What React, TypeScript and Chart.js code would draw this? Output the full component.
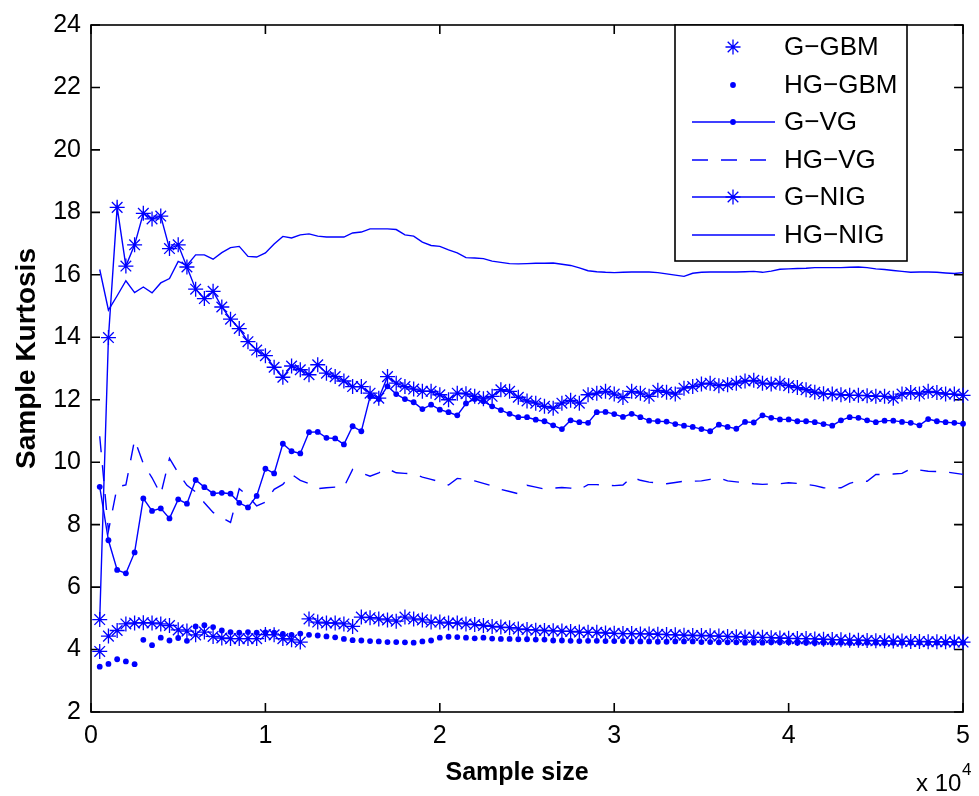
import React, { useEffect, useRef } from 'react';
import { Chart, registerables } from 'chart.js';

Chart.register(...registerables);

// ---------- data ----------
const sampleSizes = [
  500, 1000, 1500, 2000, 2500, 3000, 3500, 4000, 4500, 5000,
  5500, 6000, 6500, 7000, 7500, 8000, 8500, 9000, 9500, 10000,
  10500, 11000, 11500, 12000, 12500, 13000, 13500, 14000, 14500, 15000,
  15500, 16000, 16500, 17000, 17500, 18000, 18500, 19000, 19500, 20000,
  20500, 21000, 21500, 22000, 22500, 23000, 23500, 24000, 24500, 25000,
  25500, 26000, 26500, 27000, 27500, 28000, 28500, 29000, 29500, 30000,
  30500, 31000, 31500, 32000, 32500, 33000, 33500, 34000, 34500, 35000,
  35500, 36000, 36500, 37000, 37500, 38000, 38500, 39000, 39500, 40000,
  40500, 41000, 41500, 42000, 42500, 43000, 43500, 44000, 44500, 45000,
  45500, 46000, 46500, 47000, 47500, 48000, 48500, 49000, 49500, 50000,
];

const gGBM = [
  3.94, 4.43, 4.61, 4.82, 4.85, 4.86, 4.85, 4.82, 4.77, 4.63,
  4.59, 4.47, 4.56, 4.42, 4.37, 4.35, 4.35, 4.35, 4.35, 4.48,
  4.47, 4.35, 4.31, 4.24, 4.98, 4.88, 4.85, 4.85, 4.82, 4.74,
  5.04, 5.02, 4.98, 4.95, 4.91, 5.04, 4.98, 4.95, 4.88, 4.88,
  4.85, 4.85, 4.82, 4.80, 4.77, 4.74, 4.72, 4.70, 4.66, 4.64,
  4.62, 4.61, 4.60, 4.59, 4.58, 4.56, 4.55, 4.55, 4.53, 4.52,
  4.51, 4.51, 4.50, 4.50, 4.49, 4.48, 4.47, 4.46, 4.45, 4.45,
  4.44, 4.43, 4.42, 4.41, 4.40, 4.39, 4.39, 4.38, 4.37, 4.36,
  4.35, 4.35, 4.34, 4.33, 4.32, 4.31, 4.30, 4.30, 4.29, 4.28,
  4.28, 4.27, 4.27, 4.26, 4.26, 4.25, 4.25, 4.25, 4.24, 4.24,
];

const hgGBM = [
  3.45, 3.54, 3.69, 3.62, 3.53, 4.31, 4.14, 4.38, 4.29, 4.37,
  4.28, 4.74, 4.78, 4.72, 4.61, 4.56, 4.54, 4.56, 4.54, 4.55,
  4.54, 4.50, 4.47, 4.51, 4.47, 4.45, 4.42, 4.39, 4.34, 4.30,
  4.29, 4.27, 4.26, 4.24, 4.24, 4.23, 4.22, 4.26, 4.29, 4.38,
  4.41, 4.40, 4.38, 4.36, 4.38, 4.35, 4.34, 4.34, 4.33, 4.33,
  4.32, 4.32, 4.29, 4.29, 4.28, 4.27, 4.28, 4.28, 4.27, 4.27,
  4.27, 4.26, 4.26, 4.26, 4.25, 4.25, 4.26, 4.26, 4.26, 4.24,
  4.24, 4.23, 4.23, 4.23, 4.22, 4.22, 4.22, 4.23, 4.23, 4.23,
  4.22, 4.22, 4.21, 4.22, 4.22, 4.22, 4.21, 4.22, 4.22, 4.22,
  4.21, 4.22, 4.22, 4.22, 4.22, 4.21, 4.22, 4.22, 4.22, 4.22,
];

const gVG = [
  9.21, 7.50, 6.55, 6.44, 7.11, 8.84, 8.44, 8.52, 8.20, 8.81,
  8.67, 9.43, 9.20, 9.00, 9.02, 8.99, 8.70, 8.55, 8.92, 9.79,
  9.64, 10.59, 10.35, 10.28, 10.96, 10.97, 10.78, 10.76, 10.57, 11.15,
  10.99, 12.10, 12.02, 12.43, 12.18, 12.02, 11.92, 11.70, 11.84, 11.68,
  11.60, 11.50, 11.88, 12.02, 11.95, 11.79, 11.67, 11.55, 11.44, 11.44,
  11.36, 11.31, 11.18, 11.06, 11.34, 11.28, 11.26, 11.60, 11.61, 11.54,
  11.45, 11.55, 11.44, 11.33, 11.31, 11.30, 11.22, 11.17, 11.13, 11.06,
  10.99, 11.20, 11.13, 11.07, 11.29, 11.27, 11.50, 11.42, 11.37, 11.37,
  11.31, 11.31, 11.28, 11.22, 11.17, 11.34, 11.44, 11.42, 11.34, 11.28,
  11.33, 11.33, 11.29, 11.26, 11.18, 11.38, 11.31, 11.28, 11.26, 11.23,
];

const hgVG = [
  10.83, 7.80, 9.21, 9.27, 10.72, 9.95, 9.50, 8.97, 10.12, 9.66,
  9.26, 9.05, 8.70, 8.39, 8.22, 8.07, 9.15, 8.92, 8.60, 8.72,
  9.13, 9.29, 9.61, 9.42, 9.31, 9.15, 9.18, 9.20, 9.20, 9.77,
  9.66, 9.55, 9.66, 9.79, 9.66, 9.64, 9.63, 9.52, 9.45, 9.37,
  9.27, 9.48, 9.45, 9.40, 9.32, 9.24, 9.13, 9.06, 8.99, 9.26,
  9.20, 9.14, 9.17, 9.19, 9.17, 9.12, 9.28, 9.28, 9.26, 9.25,
  9.27, 9.52, 9.42, 9.36, 9.34, 9.31, 9.35, 9.39, 9.39, 9.40,
  9.45, 9.50, 9.40, 9.37, 9.34, 9.31, 9.29, 9.30, 9.31, 9.34,
  9.32, 9.29, 9.25, 9.18, 9.17, 9.18, 9.32, 9.40, 9.39, 9.61,
  9.60, 9.62, 9.64, 9.79, 9.75, 9.71, 9.70, 9.69, 9.65, 9.61,
];

const gNIG = [
  4.96, 13.99, 18.16, 16.28, 16.96, 17.97, 17.79, 17.88, 16.84, 16.96,
  16.25, 15.54, 15.24, 15.47, 14.97, 14.58, 14.28, 13.86, 13.59, 13.41,
  13.04, 12.72, 13.08, 12.96, 12.80, 13.12, 12.85, 12.74, 12.60, 12.42,
  12.42, 12.21, 12.05, 12.74, 12.53, 12.42, 12.34, 12.27, 12.27, 12.16,
  12.00, 12.21, 12.19, 12.11, 12.03, 12.11, 12.32, 12.27, 12.08, 11.96,
  11.89, 11.79, 11.73, 11.89, 11.98, 11.89, 12.16, 12.21, 12.27, 12.18,
  12.07, 12.27, 12.21, 12.11, 12.30, 12.24, 12.18, 12.37, 12.42, 12.50,
  12.53, 12.45, 12.48, 12.53, 12.60, 12.62, 12.53, 12.50, 12.53, 12.45,
  12.39, 12.32, 12.24, 12.19, 12.18, 12.16, 12.14, 12.14, 12.13, 12.11,
  12.11, 12.05, 12.18, 12.23, 12.18, 12.27, 12.23, 12.18, 12.18, 12.14,
];

const hgNIG = [
  16.17, 14.87, 15.33, 15.81, 15.43, 15.61, 15.42, 15.74, 15.88, 16.43,
  16.30, 16.64, 16.64, 16.50, 16.71, 16.87, 16.91, 16.59, 16.57, 16.70,
  16.99, 17.23, 17.18, 17.28, 17.31, 17.24, 17.21, 17.21, 17.21, 17.34,
  17.37, 17.47, 17.47, 17.47, 17.45, 17.28, 17.24, 17.05, 16.94, 16.91,
  16.80, 16.70, 16.55, 16.54, 16.52, 16.44, 16.40, 16.36, 16.35, 16.36,
  16.37, 16.37, 16.38, 16.34, 16.30, 16.22, 16.13, 16.10, 16.08, 16.07,
  16.08, 16.09, 16.09, 16.09, 16.07, 16.03, 15.99, 15.95, 16.05, 16.08,
  16.09, 16.09, 16.09, 16.09, 16.10, 16.11, 16.08, 16.12, 16.18, 16.19,
  16.20, 16.21, 16.23, 16.23, 16.23, 16.23, 16.24, 16.25, 16.23, 16.19,
  16.17, 16.14, 16.11, 16.08, 16.09, 16.09, 16.08, 16.06, 16.04, 16.07,
];

const seriesNames = ['G\u2212GBM', 'HG\u2212GBM', 'G\u2212VG', 'HG\u2212VG', 'G\u2212NIG', 'HG\u2212NIG'];
const xTickValues = [0, 1, 2, 3, 4, 5];
const yTickValues = [2, 4, 6, 8, 10, 12, 14, 16, 18, 20, 22, 24];
const xScaleFactor = 10000;
const xTitle = 'Sample size';
const yTitle = 'Sample Kurtosis';

// ---------- styling ----------
const BLUE = '#0000ff';
const FONT = "'Liberation Sans', Arial, Helvetica, sans-serif";
const W = 979;
const H = 796;
const PLOT = { left: 91, top: 22, right: 966, bottom: 712 };
const STAR_R = 7.5;
const STAR_W = 1.3;
const DOT_R = 2.9;
const LINE_W = 1.4;

const pts = (ys: number[]) => ys.map((y, i) => ({ x: sampleSizes[i], y }));

function drawStar(ctx: CanvasRenderingContext2D, x: number, y: number, r: number) {
  const d = r * Math.SQRT1_2;
  ctx.beginPath();
  ctx.moveTo(x - r, y); ctx.lineTo(x + r, y);
  ctx.moveTo(x, y - r); ctx.lineTo(x, y + r);
  ctx.moveTo(x - d, y - d); ctx.lineTo(x + d, y + d);
  ctx.moveTo(x - d, y + d); ctx.lineTo(x + d, y - d);
  ctx.stroke();
}
function drawDot(ctx: CanvasRenderingContext2D, x: number, y: number, r: number) {
  ctx.beginPath();
  ctx.arc(x, y, r, 0, Math.PI * 2);
  ctx.fill();
}

const framePlugin = {
  id: 'matlabFrame',
  beforeDatasetsDraw(chart: any) {
    const { ctx, chartArea: a, scales } = chart;
    ctx.save();
    ctx.strokeStyle = '#000';
    ctx.lineWidth = 1.6;
    ctx.strokeRect(a.left, a.top, a.right - a.left, a.bottom - a.top);
    ctx.beginPath();
    for (const t of xTickValues) {
      const px = scales.x.getPixelForValue(t * xScaleFactor);
      ctx.moveTo(px, a.bottom); ctx.lineTo(px, a.bottom - 9);
      ctx.moveTo(px, a.top); ctx.lineTo(px, a.top + 9);
    }
    for (const t of yTickValues) {
      const py = scales.y.getPixelForValue(t);
      ctx.moveTo(a.left, py); ctx.lineTo(a.left + 9, py);
      ctx.moveTo(a.right, py); ctx.lineTo(a.right - 9, py);
    }
    ctx.stroke();
    ctx.restore();
  },
  afterDraw(chart: any) {
    const { ctx, chartArea: a } = chart;
    ctx.save();
    // axis titles
    ctx.fillStyle = '#000';
    ctx.font = `bold 25px ${FONT}`;
    ctx.textAlign = 'center';
    ctx.textBaseline = 'middle';
    ctx.fillText(xTitle, (a.left + a.right) / 2 - 10, 773);
    ctx.save();
    ctx.translate(27, (a.top + a.bottom) / 2 - 10);
    ctx.rotate(-Math.PI / 2);
    ctx.font = `bold 28px ${FONT}`;
    ctx.fillText(yTitle, 0, 0);
    ctx.restore();
    // exponent
    ctx.font = `24px ${FONT}`;
    ctx.textAlign = 'left';
    ctx.textBaseline = 'alphabetic';
    ctx.fillText('x 10', 916, 791);
    ctx.font = `17px ${FONT}`;
    ctx.fillText('4', 962, 775);

    // legend
    const lx = 675, ly = a.top, lw = 232, lh = 236;
    ctx.fillStyle = '#fff';
    ctx.fillRect(lx, ly, lw, lh);
    ctx.strokeStyle = '#000';
    ctx.lineWidth = 1.6;
    ctx.strokeRect(lx, ly, lw, lh);
    const rows = [47, 85, 122, 160, 197, 235];
    const x0 = 692, x1 = 775, xm = 733;
    ctx.strokeStyle = BLUE;
    ctx.fillStyle = BLUE;
    rows.forEach((ry, i) => {
      ctx.lineWidth = LINE_W;
      if (i >= 2) {
        ctx.setLineDash(i === 3 ? [16, 13] : []);
        ctx.beginPath();
        ctx.moveTo(x0, ry); ctx.lineTo(x1, ry);
        ctx.stroke();
        ctx.setLineDash([]);
      }
      ctx.lineWidth = STAR_W;
      if (i === 0 || i === 4) drawStar(ctx, xm, ry, STAR_R);
      if (i === 1 || i === 2) drawDot(ctx, xm, ry, DOT_R);
    });
    ctx.fillStyle = '#000';
    ctx.font = `26px ${FONT}`;
    ctx.textAlign = 'left';
    ctx.textBaseline = 'middle';
    rows.forEach((ry, i) => ctx.fillText(seriesNames[i], 784, ry + 1));
    ctx.restore();
  },
};

export default function App() {
  const ref = useRef<HTMLCanvasElement | null>(null);
  useEffect(() => {
    if (!ref.current) return;
    const tickFont = { family: FONT, size: 25 };
    const chart = new Chart(ref.current, {
      type: 'line',
      data: {
        datasets: [
          {
            label: seriesNames[0], data: pts(gGBM), showLine: false,
            pointStyle: 'star', pointRadius: STAR_R, pointBorderWidth: STAR_W,
            borderColor: BLUE, backgroundColor: BLUE, order: 6,
          },
          {
            label: seriesNames[1], data: pts(hgGBM), showLine: false,
            pointStyle: 'circle', pointRadius: DOT_R, pointBorderWidth: 0,
            borderColor: BLUE, pointBackgroundColor: BLUE, backgroundColor: BLUE, order: 5,
          },
          {
            label: seriesNames[2], data: pts(gVG), borderWidth: LINE_W,
            pointStyle: 'circle', pointRadius: DOT_R, pointBorderWidth: 0,
            borderColor: BLUE, pointBackgroundColor: BLUE, backgroundColor: BLUE, order: 4,
          },
          {
            label: seriesNames[3], data: pts(hgVG), borderWidth: LINE_W, borderDash: [16, 13],
            pointRadius: 0, borderColor: BLUE, backgroundColor: BLUE, order: 3,
          },
          {
            label: seriesNames[4], data: pts(gNIG), borderWidth: LINE_W,
            pointStyle: 'star', pointRadius: STAR_R, pointBorderWidth: STAR_W,
            borderColor: BLUE, backgroundColor: BLUE, order: 2,
          },
          {
            label: seriesNames[5], data: pts(hgNIG), borderWidth: LINE_W,
            pointRadius: 0, borderColor: BLUE, backgroundColor: BLUE, order: 1,
          },
        ] as any,
      },
      options: {
        responsive: false,
        animation: false,
        events: [],
        devicePixelRatio: 1,
        layout: { padding: { left: 0, top: PLOT.top, right: W - PLOT.right, bottom: 0 } },
        elements: { line: { tension: 0, fill: false } },
        datasets: { line: { clip: false } } as any,
        plugins: { legend: { display: false }, tooltip: { enabled: false }, title: { display: false } },
        scales: {
          x: {
            type: 'linear', min: 0, max: 50000,
            afterBuildTicks: (s: any) => { s.ticks = xTickValues.map((v) => ({ value: v * xScaleFactor })); },
            ticks: {
              callback: (v: any) => String(Number(v) / xScaleFactor),
              font: tickFont, color: '#000', padding: 9, maxRotation: 0, autoSkip: false,
            },
            grid: { display: false, drawTicks: false },
            border: { display: false },
            afterFit: (s: any) => { s.height = H - PLOT.bottom; },
          },
          y: {
            type: 'linear', min: 2, max: 24,
            afterBuildTicks: (s: any) => { s.ticks = yTickValues.map((v) => ({ value: v })); },
            ticks: { font: tickFont, color: '#000', padding: 10, autoSkip: false },
            grid: { display: false, drawTicks: false },
            border: { display: false },
            afterFit: (s: any) => { s.width = PLOT.left; },
          },
        },
      } as any,
      plugins: [framePlugin],
    });
    return () => chart.destroy();
  }, []);
  return (
    <div style={{ position: 'absolute', left: 0, top: 0, width: W, height: H, background: '#fff' }}>
      <canvas ref={ref} width={W} height={H} style={{ display: 'block', width: W, height: H }} />
    </div>
  );
}
